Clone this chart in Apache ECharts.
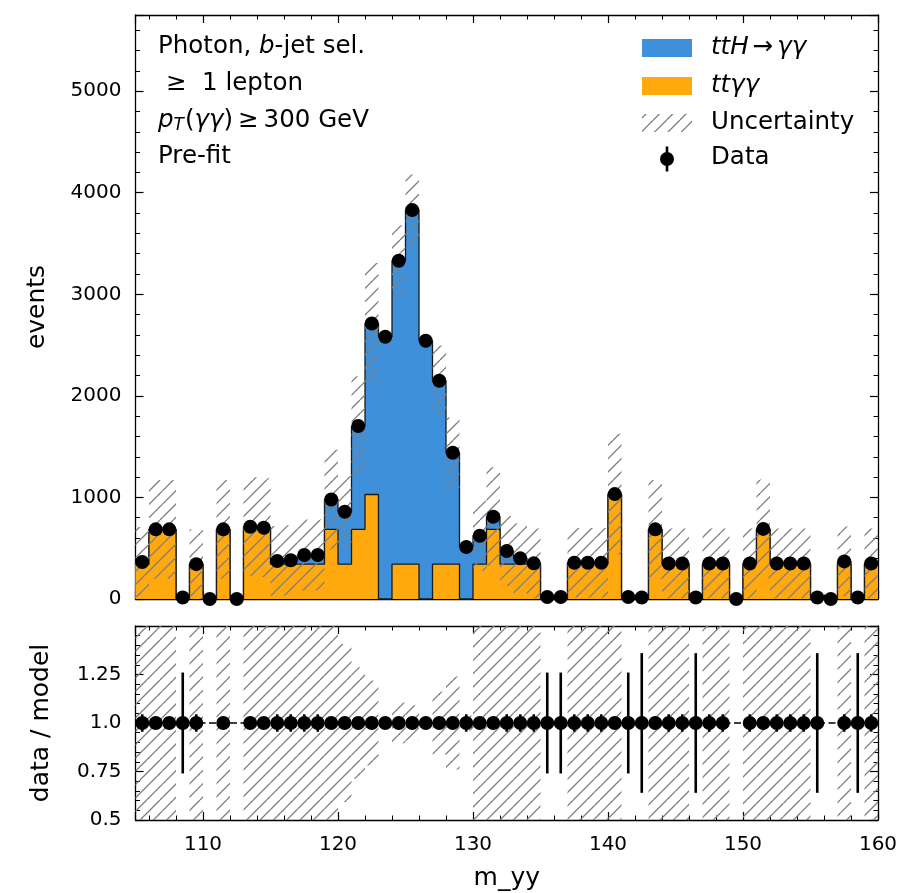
<!DOCTYPE html>
<html><head><meta charset="utf-8">
<script src="https://cdn.jsdelivr.net/npm/echarts@6/dist/echarts.min.js"></script>
<style>html,body{margin:0;padding:0;background:#fff}#c{width:901px;height:893px}</style>
</head><body><div id="c"></div>
<script>
// ---------------- data ----------------
const binEdges = [105,106,107,108,109,110,111,112,113,114,115,116,117,118,119,120,121,122,123,124,125,126,127,128,129,130,131,132,133,134,135,136,137,138,139,140,141,142,143,144,145,146,147,148,149,150,151,152,153,154,155,156,157,158,159,160];
const ttgg = [343,686,686,0,343,0,686,0,686,686,343,343,343,343,686,343,686,1029,0,343,343,0,343,343,0,343,686,343,343,343,0,0,343,343,343,1029,0,0,686,343,343,0,343,343,0,343,686,343,343,343,0,0,343,0,343];
const tth = [22,0,0,15,0,0,0,0,26,16,31,38,90,90,294,516,1017,1684,2582,2987,3486,2543,1806,1097,512,280,124,129,57,8,20,20,14,14,14,4,20,15,0,7,7,15,7,7,0,7,4,7,7,7,15,0,27,15,7];
const dataVals = [365,686,686,15,343,0,686,0,712,702,374,381,433,433,980,859,1703,2713,2582,3330,3829,2543,2149,1440,512,623,810,472,400,351,20,20,357,357,357,1033,20,15,686,350,350,15,350,350,0,350,690,350,350,350,15,0,370,15,350];
const uncertainty = [345,486,486,0,343,0,486,0,486,486,345,345,350,350,490,350,490,596,40,350,350,35,348,346,20,345,486,345,343,343,0,0,343,343,343,594,0,0,486,343,343,0,343,343,0,343,486,343,343,343,0,0,343,0,343];
const ratioVals = [1,1,1,1,1,null,1,null,1,1,1,1,1,1,1,1,1,1,1,1,1,1,1,1,1,1,1,1,1,1,1,1,1,1,1,1,1,1,1,1,1,1,1,1,null,1,1,1,1,1,1,null,1,1,1];
const ratioErr = [0.045,0,0,0.26,0.045,0,0,0,0,0,0.045,0.045,0.045,0.045,0,0,0,0,0,0,0,0,0,0,0.045,0,0,0.045,0.045,0.045,0.26,0.26,0.045,0.045,0.045,0,0.26,0.36,0,0.045,0.045,0.36,0.045,0.045,0,0.045,0,0.045,0.045,0.045,0.36,0,0.045,0.36,0.045];
const legendLabels = ['ttH → γγ', 'ttγγ', 'Uncertainty', 'Data'];
const annotLines = ['Photon, b-jet sel.', '≥  1 lepton', 'pT(γγ) ≥ 300 GeV', 'Pre-fit'];

// ---------------- style ----------------
const BLUE = '#3f90da', ORANGE = '#ffa90e', EDGE = '#1a1a1a', HATCH = '#7f7f7f';
const FONT = 'DejaVu Sans';
const TICKF = 20, TEXTF = 24.5, NAMEF = 25;

function makeHatch() {
  const c = document.createElement('canvas'); c.width = 40; c.height = 40;
  const g = c.getContext('2d');
  g.strokeStyle = HATCH; g.lineWidth = 1.3;
  for (let k = -4; k <= 4; k++) {
    const o = k * 40 / 3;
    g.beginPath(); g.moveTo(o, 40); g.lineTo(o + 40, 0); g.stroke();
  }
  return c;
}
const hatchFill = { image: makeHatch(), repeat: 'repeat' };

const nb = ttgg.length;
const total = ttgg.map((v, i) => v + tth[i]);
const centers = binEdges.slice(0, nb).map((e, i) => (e + binEdges[i + 1]) / 2);
function stepData(vals) {
  const d = vals.map((v, i) => [binEdges[i], v]);
  d.push([binEdges[nb], vals[nb - 1]]);
  return d;
}
const bandMain = [], bandRatio = [];
for (let i = 0; i < nb; i++) {
  if (uncertainty[i] > 0 && total[i] > 0) {
    bandMain.push([binEdges[i], binEdges[i + 1], Math.max(0, total[i] - uncertainty[i]), total[i] + uncertainty[i]]);
    const r = uncertainty[i] / total[i];
    bandRatio.push([binEdges[i], binEdges[i + 1], Math.max(0.5, 1 - r), Math.min(1.5, 1 + r)]);
  }
}
const mainPts = centers.map((c, i) => [c, dataVals[i]]);
const ratioPts = [], ratioBars = [];
centers.forEach((c, i) => {
  if (ratioVals[i] != null) {
    ratioPts.push([c, ratioVals[i]]);
    if (ratioErr[i] > 0) ratioBars.push([c, ratioVals[i], ratioErr[i]]);
  }
});

const rectItem = (params, api) => {
  const p1 = api.coord([api.value(0), api.value(3)]);
  const p2 = api.coord([api.value(1), api.value(2)]);
  return { type: 'rect', silent: true, shape: { x: p1[0], y: p1[1], width: p2[0] - p1[0], height: p2[1] - p1[1] }, style: { fill: hatchFill } };
};

const tickLabel = { fontFamily: FONT, fontSize: TICKF, color: '#000' };
function xAx(grid, pos, labels, extra) {
  return Object.assign({
    type: 'value', gridIndex: grid, position: pos, min: 105, max: 160, minInterval: 10, maxInterval: 10,
    axisLine: { show: true, onZero: false, lineStyle: { color: '#000', width: 1.3 } },
    axisTick: { show: true, inside: true, length: 8, lineStyle: { color: '#000', width: 1.2 } },
    minorTick: { show: true, splitNumber: 5, length: 4.5, lineStyle: { color: '#000', width: 1 } },
    splitLine: { show: false },
    axisLabel: labels ? Object.assign({ margin: 15, formatter: v => (v % 10 === 0 ? String(v) : '') }, tickLabel) : { show: false }
  }, extra || {});
}
function yAx(grid, pos, labels, min, max, interval, minorN, fmt, extra) {
  return Object.assign({
    type: 'value', gridIndex: grid, position: pos, min: min, max: max, interval: interval,
    axisLine: { show: true, onZero: false, lineStyle: { color: '#000', width: 1.3 } },
    axisTick: { show: true, inside: true, length: 8, lineStyle: { color: '#000', width: 1.2 } },
    minorTick: { show: true, splitNumber: minorN, length: 4.5, lineStyle: { color: '#000', width: 1 } },
    splitLine: { show: false },
    axisLabel: labels ? Object.assign({ margin: 14, formatter: fmt }, tickLabel) : { show: false }
  }, extra || {});
}

const nameStyle = { fontFamily: FONT, fontSize: NAMEF, color: '#000' };
const option = {
  animation: false,
  backgroundColor: '#fff',
  grid: [
    { left: 135.5, right: 23, top: 15, height: 584 },
    { left: 135.5, right: 23, top: 626, height: 194 }
  ],
  xAxis: [
    xAx(0, 'bottom', false),
    xAx(0, 'top', false),
    xAx(1, 'bottom', true, { name: 'm_yy', nameLocation: 'middle', nameGap: 46, nameTextStyle: nameStyle }),
    xAx(1, 'top', false)
  ],
  yAxis: [
    yAx(0, 'left', true, 0, 5750, 1000, 5, v => (v % 1000 === 0 ? String(v) : ''), { name: 'events', nameLocation: 'middle', nameGap: 86, nameTextStyle: nameStyle }),
    yAx(0, 'right', false, 0, 5750, 1000, 5),
    yAx(1, 'left', true, 0.5, 1.5, 0.25, 5, v => (v >= 1.49 ? '' : (v === 1 ? '1.0' : String(v))), { name: 'data / model', nameLocation: 'middle', nameGap: 82, nameTextStyle: nameStyle }),
    yAx(1, 'right', false, 0.5, 1.5, 0.25, 5)
  ],
  series: [
    { name: legendLabels[0], type: 'line', xAxisIndex: 0, yAxisIndex: 0, step: 'end', symbol: 'none', data: stepData(total),
      lineStyle: { color: EDGE, width: 1.3 }, areaStyle: { color: BLUE, opacity: 1 }, z: 2 },
    { name: legendLabels[1], type: 'line', xAxisIndex: 0, yAxisIndex: 0, step: 'end', symbol: 'none', data: stepData(ttgg),
      lineStyle: { color: EDGE, width: 1.3 }, areaStyle: { color: ORANGE, opacity: 1 }, z: 3 },
    { name: legendLabels[2], type: 'custom', xAxisIndex: 0, yAxisIndex: 0, data: bandMain, renderItem: rectItem, z: 4 },
    { name: legendLabels[3], type: 'scatter', xAxisIndex: 0, yAxisIndex: 0, data: mainPts, symbol: 'circle', symbolSize: 14,
      itemStyle: { color: '#000', opacity: 1 }, clip: true, z: 6 },
    { type: 'custom', xAxisIndex: 2, yAxisIndex: 2, data: bandRatio, renderItem: rectItem, z: 2 },
    { type: 'line', xAxisIndex: 2, yAxisIndex: 2, data: [[105, 1], [160, 1]], symbol: 'none',
      lineStyle: { color: '#000', width: 1.5, type: [7, 3.5] }, z: 3 },
    { type: 'custom', xAxisIndex: 2, yAxisIndex: 2, data: ratioBars, z: 5,
      renderItem: (params, api) => {
        const a = api.coord([api.value(0), api.value(1) + api.value(2)]);
        const b = api.coord([api.value(0), api.value(1) - api.value(2)]);
        return { type: 'line', shape: { x1: a[0], y1: a[1], x2: b[0], y2: b[1] }, style: { stroke: '#000', lineWidth: 2.6 } };
      } },
    { type: 'scatter', xAxisIndex: 2, yAxisIndex: 2, data: ratioPts, symbol: 'circle', symbolSize: 14,
      itemStyle: { color: '#000', opacity: 1 }, clip: true, z: 6 }
  ],
  graphic: [
    // annotation
    { type: 'text', x: 158, y: 47, z: 100, style: { text: '{n|Photon, }{i|b}{n|-jet sel.}', verticalAlign: 'middle',
      rich: { n: { fontFamily: FONT, fontSize: TEXTF, fill: '#000' }, i: { fontFamily: FONT, fontSize: TEXTF, fontStyle: 'italic', fill: '#000' } } } },
    { type: 'text', x: 166, y: 84, z: 100, style: { text: annotLines[1], verticalAlign: 'middle', fontFamily: FONT, fontSize: TEXTF, fill: '#000' } },
    { type: 'text', x: 158, y: 121, z: 100, style: { text: '{i|p}{s|T}{n|(}{i|γγ}{n|)}{r|≥}{n|300 GeV}', verticalAlign: 'middle',
      rich: { n: { fontFamily: FONT, fontSize: TEXTF, fill: '#000' }, i: { fontFamily: FONT, fontSize: TEXTF, fontStyle: 'italic', fill: '#000' },
              r: { fontFamily: FONT, fontSize: TEXTF, fill: '#000', padding: [0, 5, 0, 5] },
              s: { fontFamily: FONT, fontSize: 17, fontStyle: 'italic', fill: '#000', padding: [10, 1, 0, 0] } } } },
    { type: 'text', x: 158, y: 157, z: 100, style: { text: annotLines[3], verticalAlign: 'middle', fontFamily: FONT, fontSize: TEXTF, fill: '#000' } },
    // legend
    { type: 'rect', z: 100, shape: { x: 642, y: 39, width: 50, height: 18 }, style: { fill: BLUE } },
    { type: 'rect', z: 100, shape: { x: 642, y: 77, width: 50, height: 18 }, style: { fill: ORANGE } },
    { type: 'rect', z: 100, shape: { x: 642, y: 114, width: 50, height: 18 }, style: { fill: hatchFill } },
    { type: 'line', z: 100, shape: { x1: 667, y1: 146.5, x2: 667, y2: 171.5 }, style: { stroke: '#000', lineWidth: 2.6 } },
    { type: 'circle', z: 101, shape: { cx: 667, cy: 159, r: 7 }, style: { fill: '#000' } },
    { type: 'text', x: 711, y: 48, z: 100, style: { text: '{i|ttH}{a|→}{i|γγ}', verticalAlign: 'middle',
      rich: { a: { fontFamily: FONT, fontSize: TEXTF, fill: '#000', padding: [0, 4, 0, 4] }, i: { fontFamily: FONT, fontSize: TEXTF, fontStyle: 'italic', fill: '#000' } } } },
    { type: 'text', x: 711, y: 86, z: 100, style: { text: '{i|ttγγ}', verticalAlign: 'middle',
      rich: { i: { fontFamily: FONT, fontSize: TEXTF, fontStyle: 'italic', fill: '#000' } } } },
    { type: 'text', x: 711, y: 123, z: 100, style: { text: legendLabels[2], verticalAlign: 'middle', fontFamily: FONT, fontSize: TEXTF, fill: '#000' } },
    { type: 'text', x: 711, y: 158, z: 100, style: { text: legendLabels[3], verticalAlign: 'middle', fontFamily: FONT, fontSize: TEXTF, fill: '#000' } }
  ]
};
const chart = echarts.init(document.getElementById('c'), null, { renderer: 'canvas' });
chart.setOption(option);
</script>
</body></html>
